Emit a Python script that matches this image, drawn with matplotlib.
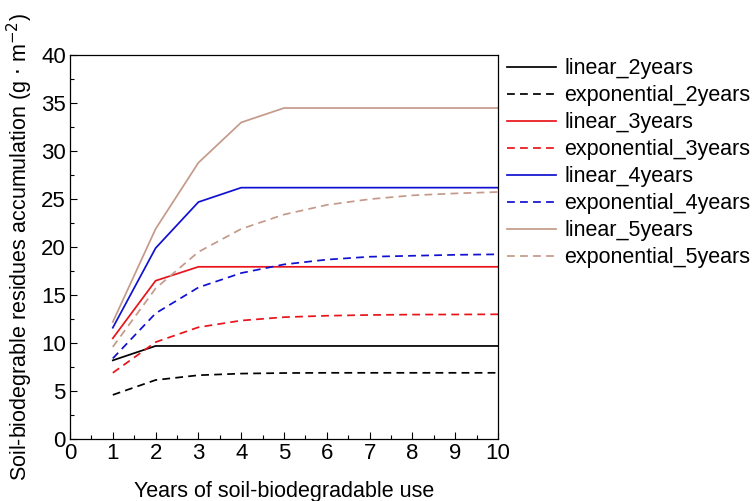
import matplotlib
matplotlib.use("Agg")
import matplotlib.pyplot as plt
from matplotlib.ticker import MultipleLocator

plt.rcParams['font.family'] = ['Liberation Sans', 'DejaVu Sans']

years = [1, 2, 3, 4, 5, 6, 7, 8, 9, 10]

linear_2 = [8.2, 9.7, 9.7, 9.7, 9.7, 9.7, 9.7, 9.7, 9.7, 9.7]
exp_2 = [4.6, 6.15, 6.65, 6.82, 6.88, 6.9, 6.9, 6.9, 6.9, 6.9]
linear_3 = [10.5, 16.5, 17.95, 17.95, 17.95, 17.95, 17.95, 17.95, 17.95, 17.95]
exp_3 = [6.9, 10.1, 11.65, 12.35, 12.7, 12.85, 12.93, 12.97, 12.98, 13.0]
linear_4 = [11.6, 19.9, 24.7, 26.2, 26.2, 26.2, 26.2, 26.2, 26.2, 26.2]
exp_4 = [8.4, 13.1, 15.8, 17.3, 18.2, 18.7, 19.0, 19.1, 19.2, 19.25]
linear_5 = [12.2, 21.9, 28.8, 33.0, 34.5, 34.5, 34.5, 34.5, 34.5, 34.5]
exp_5 = [9.6, 15.7, 19.5, 21.9, 23.4, 24.4, 25.0, 25.4, 25.6, 25.75]

labels = ['linear_2years', 'exponential_2years', 'linear_3years', 'exponential_3years',
          'linear_4years', 'exponential_4years', 'linear_5years', 'exponential_5years']

c_black = '#000000'
c_red = '#E8141A'
c_blue = '#1010D0'
c_tan = '#C49A8A'

fig = plt.figure(figsize=(7.55, 5.01), dpi=100)
ax = fig.add_axes([0.0927, 0.1237, 0.567, 0.766])

dash = (0, (4.5, 3.0))
series = [
    (linear_2, c_black, '-'), (exp_2, c_black, dash),
    (linear_3, c_red, '-'), (exp_3, c_red, dash),
    (linear_4, c_blue, '-'), (exp_4, c_blue, dash),
    (linear_5, c_tan, '-'), (exp_5, c_tan, dash),
]
for (vals, col, ls), lab in zip(series, labels):
    ax.plot(years, vals, color=col, linestyle=ls, linewidth=1.25, label=lab)

ax.set_xlim(0, 10)
ax.set_ylim(0, 40)
ax.xaxis.set_major_locator(MultipleLocator(1))
ax.xaxis.set_minor_locator(MultipleLocator(0.5))
ax.yaxis.set_major_locator(MultipleLocator(5))
ax.yaxis.set_minor_locator(MultipleLocator(2.5))
ax.tick_params(which='both', direction='in', labelsize=16, top=False, right=False)
ax.tick_params(which='major', length=5, width=0.8, pad=3)
ax.tick_params(which='minor', length=3, width=0.8)
for s in ax.spines.values():
    s.set_linewidth(0.9)

ax.set_xlabel('Years of soil-biodegradable use', fontsize=15.5, labelpad=12)
ax.set_ylabel('Soil-biodegrable residues accumulation (g $\\cdot$ m$^{-2}$)', fontsize=15.5, labelpad=4)

leg = ax.legend(loc='upper left', bbox_to_anchor=(1.0, 1.015), frameon=False, fontsize=15.5,
                handlelength=2.3, handletextpad=0.37, labelspacing=0.28, borderaxespad=0.2,
                borderpad=0.2)

fig.savefig('out.png', dpi=100)
